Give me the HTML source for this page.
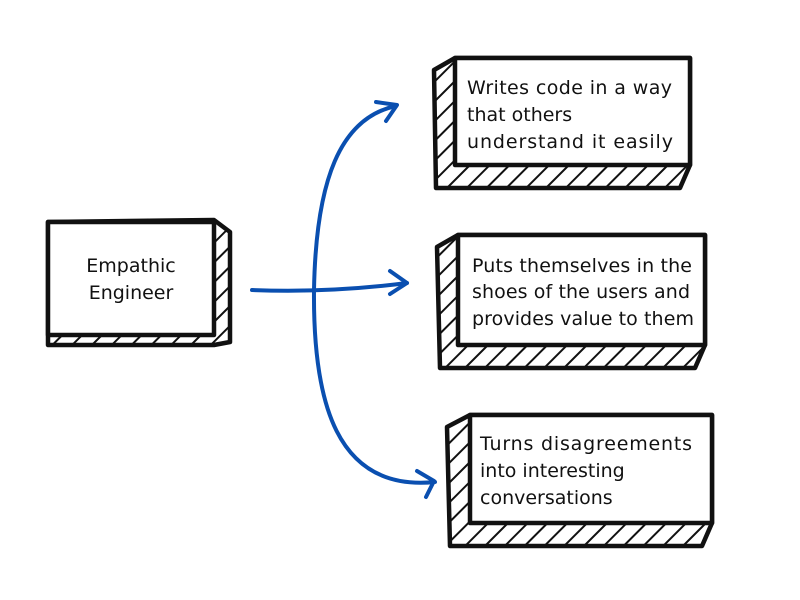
<!DOCTYPE html>
<html><head><style>html,body{margin:0;padding:0;background:#fff}svg{display:block}text{font-family:"DejaVu Sans","Liberation Sans",sans-serif;font-size:19px;fill:#111}</style></head><body>
<svg width="800" height="600" viewBox="0 0 800 600" xmlns="http://www.w3.org/2000/svg">
<defs>
<pattern id="h" width="14" height="14" patternUnits="userSpaceOnUse" patternTransform="rotate(45)">
<rect width="14" height="14" fill="#fff"/><line x1="0" y1="0" x2="0" y2="14" stroke="#111" stroke-width="4"/>
</pattern>
</defs>
<g stroke="#111" stroke-width="4.5" stroke-linejoin="round">
<polygon points="48,222 214,220 230,232 230,342 214,345 48,345" fill="url(#h)"/>
<rect x="48" y="222" width="166" height="113" fill="#fff"/>
<polygon points="434,70 455,58 690,58 690,165 680,188 436,188" fill="url(#h)"/>
<rect x="455" y="58" width="235" height="107" fill="#fff"/>
<polygon points="437,247 458,235 705,235 705,345 695,368 440,368" fill="url(#h)"/>
<rect x="458" y="235" width="247" height="110" fill="#fff"/>
<polygon points="447,427 470,415 712,415 712,523 702,546 450,546" fill="url(#h)"/>
<rect x="470" y="415" width="242" height="108" fill="#fff"/>
</g>
<text x="131" y="272" text-anchor="middle">Empathic</text>
<text x="131" y="299" text-anchor="middle">Engineer</text>
<text x="467" y="94" textLength="205">Writes code in a way</text>
<text x="467" y="121">that others</text>
<text x="467" y="148" textLength="206">understand it easily</text>
<text x="472" y="272" textLength="220">Puts themselves in the</text>
<text x="472" y="298" textLength="218">shoes of the users and</text>
<text x="472" y="325" textLength="222">provides value to them</text>
<text x="480" y="450" textLength="212">Turns disagreements</text>
<text x="480" y="477">into interesting</text>
<text x="480" y="504">conversations</text>
<g stroke="#0a4fb0" stroke-width="4" fill="none" stroke-linecap="round" stroke-linejoin="round">
<path d="M252,290 Q330,293 407,283"/>
<path d="M390,271 L407,283 L390,294"/>
<path d="M396,106 C340,118 316,180 314,290 C313,400 335,492 435,482"/>
<path d="M376,102 L397,105 L386,121"/>
<path d="M417,471 L434,481 L426,497"/>
</g>
</svg>
</body></html>
